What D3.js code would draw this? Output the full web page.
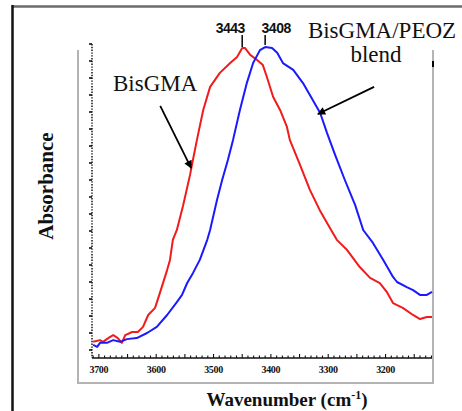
<!DOCTYPE html>
<html><head><meta charset="utf-8">
<script src="https://cdn.jsdelivr.net/npm/d3@7"></script>
<style>body{margin:0;background:#fff}svg{display:block}</style>
</head><body><svg id="c" width="462" height="411"></svg>
<script>
// ---- data ----
const redWn = [3710,3698,3693,3681,3675,3667,3660,3654,3642,3632,3623,3614,3602,3593,3581,3576,3571,3564,3553,3541,3536,3529,3518,3506,3489,3471,3459,3450,3445,3436,3424,3414,3407,3396,3384,3372,3367,3349,3332,3315,3297,3285,3267,3245,3227,3210,3198,3187,3170,3152,3140,3128,3119];
const redAbs = [0.024,0.029,0.024,0.038,0.044,0.035,0.021,0.044,0.053,0.053,0.068,0.103,0.124,0.171,0.235,0.265,0.324,0.353,0.426,0.515,0.559,0.618,0.706,0.774,0.815,0.844,0.862,0.888,0.888,0.868,0.853,0.838,0.803,0.744,0.706,0.656,0.618,0.544,0.471,0.412,0.359,0.324,0.294,0.244,0.212,0.197,0.171,0.138,0.124,0.103,0.091,0.097,0.097];
const blueWn = [3710,3703,3698,3686,3675,3663,3651,3634,3616,3599,3581,3564,3555,3546,3536,3524,3511,3506,3494,3485,3475,3466,3454,3442,3431,3419,3410,3398,3389,3379,3361,3344,3327,3314,3302,3288,3271,3253,3239,3222,3204,3187,3180,3163,3152,3140,3128,3119];
const blueAbs = [0.015,0.009,0.021,0.021,0.029,0.024,0.032,0.035,0.050,0.068,0.103,0.141,0.162,0.197,0.226,0.265,0.324,0.353,0.441,0.500,0.559,0.618,0.706,0.785,0.844,0.882,0.891,0.888,0.874,0.844,0.824,0.785,0.735,0.697,0.638,0.574,0.500,0.426,0.353,0.315,0.265,0.215,0.200,0.185,0.176,0.162,0.162,0.171];
const xTickLabels = [3700,3600,3500,3400,3300,3200];
const peakLabels = ["3443","3408"];
const seriesColors = ["#f21b1b","#1a1aff"];
const labelBis = "BisGMA";
const labelBlend = ["BisGMA/PEOZ","blend"];
const yTitle = "Absorbance";
const xTitle = "Wavenumber (cm";

const svg = d3.select("#c");
const x = d3.scaleLinear().domain([3712,3119]).range([92,432]);
const y = d3.scaleLinear().domain([0,0.9]).range([350,44]);

// outer frame
svg.append("line").attr("x1",12).attr("x2",462).attr("y1",6.5).attr("y2",6.5).attr("stroke","#6b6b6b").attr("stroke-width",2.5);
svg.append("line").attr("x1",12.5).attr("x2",12.5).attr("y1",5).attr("y2",411).attr("stroke","#111").attr("stroke-width",2.5);

// inner gray box (left, bottom, right)
svg.append("path").attr("d","M78,50 V383 H433 V50").attr("fill","none").attr("stroke","#b4b4b4").attr("stroke-width",2);
svg.append("line").attr("x1",433).attr("x2",433).attr("y1",61).attr("y2",67).attr("stroke","#000").attr("stroke-width",2);

// y axis dotted with ticks
svg.append("line").attr("x1",92).attr("x2",92).attr("y1",44).attr("y2",358).attr("stroke","#222").attr("stroke-width",1.6).attr("stroke-dasharray","1.4,1.4");
const yt = d3.range(0,0.9001,0.05);
svg.selectAll(".yt").data(yt).join("line").attr("x1",89).attr("x2",92).attr("y1",d=>y(d)).attr("y2",d=>y(d)).attr("stroke","#111").attr("stroke-width",1.6);

// x axis
const ax = 358;
svg.append("line").attr("x1",92).attr("x2",432).attr("y1",ax).attr("y2",ax).attr("stroke","#111").attr("stroke-width",1.6);
const minor = d3.range(3710,3119,-10);
svg.selectAll(".xt").data(minor).join("line")
  .attr("x1",d=>x(d)).attr("x2",d=>x(d)).attr("y1",ax).attr("y2",d=>d%50===0?ax-4:ax-2.5)
  .attr("stroke","#111").attr("stroke-width",1.1);
svg.selectAll(".xl").data(xTickLabels).join("text")
  .attr("x",d=>x(d)).attr("y",373).attr("text-anchor","middle")
  .attr("font-family","Liberation Serif").attr("font-weight","bold").attr("font-size",10).attr("letter-spacing",-0.3)
  .attr("fill","#111").text(d=>d);

// curves
const line = d3.line().x(d=>x(d[0])).y(d=>y(d[1]));
const series = [d3.zip(redWn,redAbs), d3.zip(blueWn,blueAbs)];
svg.selectAll(".s").data(series).join("path").attr("d",line).attr("fill","none")
  .attr("stroke",(d,i)=>seriesColors[i]).attr("stroke-width",2).attr("stroke-linejoin","round");

// peak markers and labels
const peaks = [redWn[d3.maxIndex(redAbs)], blueWn[d3.maxIndex(blueAbs)]];
const offs = [-12, 11];
peaks.forEach((p,i)=>{
  const px = x(p);
  svg.append("line").attr("x1",px).attr("x2",px).attr("y1",35).attr("y2",i===0?47:45).attr("stroke","#111").attr("stroke-width",1.6);
  svg.append("text").attr("x",px+offs[i]).attr("y",33).attr("text-anchor","middle")
    .attr("font-family","Liberation Sans").attr("font-weight","bold").attr("font-size",14).attr("letter-spacing",-0.5)
    .attr("fill","#111").text(peakLabels[i]);
});

// arrows
const defs = svg.append("defs");
defs.append("marker").attr("id","ah").attr("viewBox","0 0 10 10").attr("refX",9).attr("refY",5)
  .attr("markerWidth",10).attr("markerHeight",8).attr("markerUnits","userSpaceOnUse").attr("orient","auto")
  .append("path").attr("d","M0,0 L10,5 L0,10 z").attr("fill","#000");
const arrows = [[[3593,0.718],[3539,0.535]], [[3220,0.774],[3318,0.694]]];
arrows.forEach(a=>{
  svg.append("line").attr("x1",x(a[0][0])).attr("y1",y(a[0][1])).attr("x2",x(a[1][0])).attr("y2",y(a[1][1]))
    .attr("stroke","#000").attr("stroke-width",1.8).attr("marker-end","url(#ah)");
});

// series labels
const serif = "Liberation Serif";
svg.append("text").attr("x",113).attr("y",91).attr("font-family",serif).attr("font-size",23).attr("fill","#111").text(labelBis);
svg.append("text").attr("x",382).attr("y",38).attr("text-anchor","middle").attr("font-family",serif).attr("font-size",23).attr("fill","#111").text(labelBlend[0]);
svg.append("text").attr("x",376).attr("y",62).attr("text-anchor","middle").attr("font-family",serif).attr("font-size",23).attr("fill","#111").text(labelBlend[1]);

// axis titles
svg.append("text").attr("transform","translate(53,186) rotate(-90)").attr("text-anchor","middle")
  .attr("font-family",serif).attr("font-weight","bold").attr("font-size",21).attr("fill","#111").text(yTitle);
const xt = svg.append("text").attr("x",287).attr("y",406).attr("text-anchor","middle")
  .attr("font-family",serif).attr("font-weight","bold").attr("font-size",19).attr("fill","#111");
xt.append("tspan").text(xTitle);
xt.append("tspan").attr("dy",-7).attr("font-size",12).text("-1");
xt.append("tspan").attr("dy",7).text(")");
</script></body></html>
